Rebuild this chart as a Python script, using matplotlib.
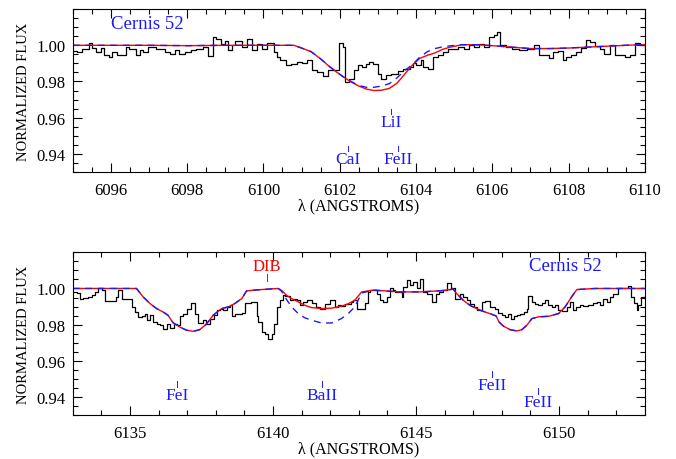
import numpy as np
import matplotlib
matplotlib.use("Agg")
import matplotlib.pyplot as plt
from matplotlib.ticker import MultipleLocator, FixedLocator, FormatStrFormatter

# Cernis 52 spectrum around 6102 A (top) and 6143 A (bottom)

# top panel: observed spectrum (step edges / flux)
top_wave = [6095.00, 6095.12, 6095.25, 6095.43, 6095.51, 6095.60, 6095.73, 6095.82,
            6095.94, 6096.04, 6096.17, 6096.26, 6096.39, 6096.48, 6096.66, 6096.76,
            6096.85, 6096.97, 6097.19, 6097.41, 6097.54, 6097.67, 6097.80, 6097.94,
            6098.11, 6098.24, 6098.42, 6098.55, 6098.67, 6098.77, 6098.90, 6098.99,
            6099.08, 6099.17, 6099.26, 6099.43, 6099.56, 6099.70, 6099.83, 6099.96,
            6100.09, 6100.27, 6100.36, 6100.44, 6100.58, 6100.71, 6100.89, 6101.02,
            6101.15, 6101.28, 6101.41, 6101.55, 6101.68, 6101.81, 6101.99, 6102.09,
            6102.15, 6102.25, 6102.38, 6102.47, 6102.58, 6102.69, 6102.78, 6102.87,
            6103.00, 6103.09, 6103.22, 6103.35, 6103.53, 6103.66, 6103.84, 6103.92,
            6104.01, 6104.13, 6104.19, 6104.32, 6104.45, 6104.58, 6104.72, 6104.85,
            6105.11, 6105.25, 6105.38, 6105.51, 6105.64, 6105.77, 6105.91, 6106.04,
            6106.13, 6106.21, 6106.35, 6106.52, 6106.70, 6106.92, 6107.09, 6107.23,
            6107.36, 6107.49, 6107.58, 6107.71, 6107.84, 6107.93, 6108.06, 6108.19,
            6108.33, 6108.46, 6108.55, 6108.68, 6108.81, 6108.94, 6109.08, 6109.21,
            6109.34, 6109.47, 6109.60, 6109.73, 6109.87, 6110.00]
top_flux = [0.9967, 0.9963, 0.9981, 1.0013, 0.9985, 0.9963, 0.9985, 0.9944,
            0.9935, 0.9963, 0.9944, 0.9948, 0.9991, 0.9981, 0.9944, 0.9972,
            0.9963, 0.9991, 0.9981, 0.9963, 0.9954, 0.9972, 0.9954, 0.9963,
            0.9972, 0.9981, 0.9991, 0.9941, 1.0046, 1.0037, 1.0009, 1.0022,
            0.9972, 1.0000, 1.0022, 0.9991, 1.0033, 0.9972, 1.0009, 0.9981,
            1.0015, 0.9963, 0.9935, 0.9917, 0.9889, 0.9898, 0.9907, 0.9902,
            0.9917, 0.9861, 0.9852, 0.9833, 0.9861, 0.9861, 1.0015, 0.9991,
            0.9796, 0.9815, 0.9861, 0.9889, 0.9880, 0.9898, 0.9907, 0.9898,
            0.9843, 0.9815, 0.9837, 0.9843, 0.9856, 0.9867, 0.9880, 0.9904,
            0.9889, 0.9917, 0.9880, 0.9870, 0.9935, 0.9944, 0.9963, 0.9981,
            0.9991, 0.9981, 1.0000, 0.9991, 1.0009, 0.9991, 1.0046, 1.0059,
            1.0074, 1.0000, 0.9991, 0.9981, 0.9972, 0.9981, 1.0000, 0.9944,
            0.9948, 0.9930, 0.9963, 0.9967, 0.9917, 0.9935, 0.9944, 0.9963,
            0.9985, 1.0028, 1.0019, 0.9994, 0.9981, 0.9954, 1.0000, 0.9948,
            0.9944, 0.9935, 0.9944, 1.0013, 1.0000, 0.9954]

# top panel: synthetic fits
top_model_wave = [6095.0, 6096.0, 6097.0, 6098.0, 6099.0, 6100.0, 6100.8, 6101.0,
                  6101.25, 6101.5, 6101.7, 6101.9, 6102.1, 6102.3, 6102.5, 6102.7,
                  6102.9, 6103.1, 6103.3, 6103.5, 6103.7, 6103.9, 6104.1, 6104.3,
                  6104.5, 6104.7, 6104.9, 6105.2, 6105.6, 6106.0, 6106.5, 6107.0,
                  6107.5, 6108.0, 6108.5, 6109.0, 6109.5, 6110.0]
top_red = [1.0000, 1.0000, 1.0000, 0.9998, 1.0000, 1.0000, 1.0000, 0.9985,
           0.9965, 0.9925, 0.9888, 0.9855, 0.9825, 0.9797, 0.9775, 0.9758,
           0.9750, 0.9752, 0.9762, 0.9790, 0.9840, 0.9890, 0.9928, 0.9945,
           0.9958, 0.9978, 0.9990, 1.0003, 1.0003, 0.9998, 0.9990, 0.9982,
           0.9982, 0.9985, 0.9990, 0.9995, 1.0000, 1.0004]
top_blue = [1.0000, 1.0000, 1.0000, 0.9998, 1.0000, 1.0000, 1.0000, 0.9985,
            0.9965, 0.9925, 0.9888, 0.9855, 0.9825, 0.9800, 0.9778, 0.9768,
            0.9768, 0.9775, 0.9788, 0.9820, 0.9860, 0.9892, 0.9935, 0.9965,
            0.9982, 0.9992, 0.9997, 1.0003, 1.0003, 0.9998, 0.9990, 0.9982,
            0.9982, 0.9985, 0.9990, 0.9995, 1.0000, 1.0004]

# bottom panel: observed spectrum
bot_wave = [6133.00, 6133.14, 6133.25, 6133.37, 6133.55, 6133.66, 6133.78, 6133.89,
            6134.01, 6134.13, 6134.53, 6134.59, 6134.71, 6134.82, 6135.06, 6135.17,
            6135.29, 6135.41, 6135.52, 6135.60, 6135.70, 6135.81, 6135.93, 6136.05,
            6136.16, 6136.28, 6136.39, 6136.53, 6136.63, 6136.74, 6136.86, 6136.98,
            6137.12, 6137.27, 6137.38, 6137.56, 6137.67, 6137.81, 6137.93, 6138.03,
            6138.15, 6138.27, 6138.38, 6138.50, 6138.56, 6138.67, 6138.91, 6139.02,
            6139.25, 6139.43, 6139.49, 6139.60, 6139.72, 6139.84, 6139.96, 6140.05,
            6140.13, 6140.25, 6140.36, 6140.42, 6140.59, 6140.71, 6140.83, 6140.94,
            6141.06, 6141.18, 6141.35, 6141.52, 6141.64, 6141.81, 6141.99, 6142.16,
            6142.26, 6142.39, 6142.51, 6142.74, 6142.81, 6142.95, 6143.22, 6143.33,
            6143.39, 6143.51, 6143.63, 6143.74, 6143.86, 6143.98, 6144.09, 6144.19,
            6144.27, 6144.50, 6144.56, 6144.67, 6144.79, 6144.91, 6145.02, 6145.14,
            6145.26, 6145.37, 6145.55, 6145.70, 6145.81, 6145.95, 6146.07, 6146.24,
            6146.36, 6146.53, 6146.65, 6146.77, 6146.88, 6147.02, 6147.14, 6147.29,
            6147.41, 6147.58, 6147.77, 6147.88, 6148.00, 6148.12, 6148.23, 6148.32,
            6148.41, 6148.52, 6148.64, 6148.76, 6148.87, 6148.93, 6149.05, 6149.16,
            6149.28, 6149.40, 6149.51, 6149.63, 6149.74, 6149.86, 6149.98, 6150.09,
            6150.27, 6150.38, 6150.50, 6150.58, 6150.73, 6150.85, 6151.02, 6151.20,
            6151.31, 6151.43, 6151.55, 6151.66, 6151.78, 6151.90, 6152.07, 6152.40,
            6152.53, 6152.63, 6152.71, 6152.77, 6152.88, 6153.00]
bot_flux = [0.9981, 0.9976, 0.9944, 0.9950, 0.9954, 0.9963, 0.9981, 1.0000,
            0.9991, 0.9931, 0.9954, 0.9991, 0.9944, 0.9939, 0.9898, 0.9870,
            0.9843, 0.9846, 0.9861, 0.9824, 0.9852, 0.9815, 0.9802, 0.9796,
            0.9778, 0.9802, 0.9783, 0.9806, 0.9796, 0.9846, 0.9861, 0.9889,
            0.9917, 0.9861, 0.9809, 0.9824, 0.9806, 0.9833, 0.9852, 0.9880,
            0.9889, 0.9883, 0.9898, 0.9907, 0.9846, 0.9861, 0.9865, 0.9917,
            0.9926, 0.9846, 0.9815, 0.9759, 0.9746, 0.9722, 0.9746, 0.9806,
            0.9898, 0.9935, 0.9963, 0.9957, 0.9935, 0.9944, 0.9935, 0.9907,
            0.9926, 0.9935, 0.9920, 0.9898, 0.9889, 0.9913, 0.9935, 0.9898,
            0.9907, 0.9902, 0.9913, 0.9926, 0.9935, 0.9889, 0.9917, 0.9981,
            0.9991, 0.9994, 0.9972, 0.9935, 0.9926, 0.9954, 1.0000, 0.9994,
            0.9981, 0.9954, 1.0006, 1.0046, 1.0019, 1.0037, 1.0000, 1.0050,
            0.9981, 0.9969, 0.9926, 0.9972, 0.9981, 0.9994, 1.0028, 1.0000,
            0.9944, 0.9972, 0.9954, 0.9935, 0.9913, 0.9898, 0.9883, 0.9926,
            0.9930, 0.9898, 0.9889, 0.9865, 0.9852, 0.9843, 0.9857, 0.9833,
            0.9846, 0.9852, 0.9861, 0.9870, 0.9889, 0.9957, 0.9926, 0.9913,
            0.9907, 0.9920, 0.9935, 0.9907, 0.9898, 0.9907, 0.9883, 0.9876,
            0.9898, 0.9926, 0.9883, 0.9898, 0.9907, 0.9902, 0.9907, 0.9917,
            0.9926, 0.9907, 0.9944, 0.9926, 0.9954, 0.9972, 1.0000, 1.0013,
            0.9954, 0.9917, 0.9883, 0.9907, 0.9954, 0.9954]

# bottom panel: synthetic fits (red with DIB, blue dashed without)
bot_model_wave = [6133.0, 6134.0, 6135.0, 6135.23, 6135.46, 6135.70, 6135.93, 6136.16,
                  6136.33, 6136.51, 6136.74, 6136.98, 6137.21, 6137.44, 6137.67, 6137.91,
                  6138.21, 6138.44, 6138.67, 6138.91, 6139.08, 6139.60, 6140.18, 6140.30,
                  6140.47, 6140.65, 6140.88, 6141.11, 6141.35, 6141.70, 6142.05, 6142.39,
                  6142.63, 6142.86, 6143.10, 6143.51, 6144.44, 6145.14, 6145.84, 6146.30,
                  6146.42, 6146.65, 6146.88, 6147.23, 6147.58, 6147.80, 6147.90, 6148.06,
                  6148.29, 6148.52, 6148.70, 6148.87, 6149.05, 6149.28, 6149.63, 6149.98,
                  6150.21, 6150.44, 6150.62, 6151.26, 6152.0, 6153.0]
bot_red = [1.0000, 1.0000, 1.0000, 1.0000, 0.9954, 0.9917, 0.9889, 0.9870,
           0.9852, 0.9810, 0.9787, 0.9769, 0.9763, 0.9772, 0.9802, 0.9852,
           0.9889, 0.9898, 0.9917, 0.9944, 0.9987, 0.9994, 1.0000, 0.9990,
           0.9963, 0.9944, 0.9926, 0.9907, 0.9894, 0.9889, 0.9891, 0.9902,
           0.9915, 0.9935, 0.9981, 0.9991, 0.9981, 0.9981, 0.9987, 0.9996,
           0.9972, 0.9935, 0.9907, 0.9880, 0.9861, 0.9848, 0.9815, 0.9791,
           0.9772, 0.9765, 0.9772, 0.9796, 0.9833, 0.9843, 0.9846, 0.9861,
           0.9898, 0.9954, 0.9994, 1.0000, 1.0000, 1.0000]
bot_blue = [1.0000, 1.0000, 1.0000, 1.0000, 0.9954, 0.9917, 0.9889, 0.9870,
            0.9852, 0.9810, 0.9787, 0.9769, 0.9763, 0.9772, 0.9802, 0.9852,
            0.9889, 0.9898, 0.9917, 0.9944, 0.9987, 0.9994, 1.0000, 0.9985,
            0.9940, 0.9898, 0.9862, 0.9838, 0.9824, 0.9809, 0.9809, 0.9833,
            0.9861, 0.9898, 0.9975, 0.9991, 0.9981, 0.9981, 0.9987, 0.9996,
            0.9972, 0.9935, 0.9907, 0.9880, 0.9861, 0.9848, 0.9815, 0.9791,
            0.9772, 0.9765, 0.9772, 0.9796, 0.9833, 0.9843, 0.9846, 0.9861,
            0.9898, 0.9954, 0.9994, 1.0000, 1.0000, 1.0000]

# line identifications: label, wavelength, flux of text baseline
top_lines = [("CaI", 6102.22, 0.9347), ("LiI", 6103.35, 0.9552), ("FeII", 6103.54, 0.9347)]
bot_lines = [("FeI", 6136.65, 0.9389), ("BaII", 6141.72, 0.9389),
             ("FeII", 6147.67, 0.9444), ("FeII", 6149.27, 0.9350)]
flux_ticks = [0.94, 0.96, 0.98, 1.00]

BLUE = "#1a1aff"
RED = "#ff0000"


def style_axes(ax, xmin, xmax, major, minor):
    ax.set_xlim(xmin, xmax)
    ax.set_ylim(0.93, 1.02)
    ax.xaxis.set_major_locator(MultipleLocator(major))
    ax.xaxis.set_minor_locator(MultipleLocator(minor))
    ax.yaxis.set_major_locator(FixedLocator(flux_ticks))
    ax.yaxis.set_minor_locator(MultipleLocator(0.005))
    ax.yaxis.set_major_formatter(FormatStrFormatter("%.2f"))
    ax.xaxis.set_major_formatter(FormatStrFormatter("%d"))
    ax.tick_params(which="both", direction="in", top=True, right=True, labelsize=12)
    ax.tick_params(which="major", length=6.5, width=0.8)
    ax.tick_params(which="minor", length=3.5, width=0.8)
    ax.tick_params(axis="x", which="major", pad=7)
    ax.tick_params(axis="y", which="major", pad=5)
    for s in ax.spines.values():
        s.set_linewidth(0.8)
    ax.set_xlabel("λ (ANGSTROMS)", fontsize=11.5, labelpad=0)
    ax.set_ylabel("NORMALIZED FLUX", fontsize=10.5, labelpad=5)


def mark_lines(ax, lines, color):
    for name, wl, base in lines:
        ax.text(wl, base, name, color=color, fontsize=12.5, ha="center", va="baseline")
        ax.plot([wl, wl], [base + 0.0068, base + 0.0098], color=color, lw=0.7)


def main():
    plt.rcParams["font.family"] = ["Liberation Serif", "DejaVu Serif"]

    fig = plt.figure(figsize=(6.76, 4.6), dpi=100)
    ax1 = fig.add_axes([0.1075, 0.624, 0.8465, 0.354])
    ax2 = fig.add_axes([0.1075, 0.0957, 0.8465, 0.3536])

    # top
    ax1.step(top_wave, top_flux, where="post", color="k", lw=0.9)
    ax1.plot(top_model_wave, top_red, color=RED, lw=1.0)
    ax1.plot(top_model_wave, top_blue, color=BLUE, lw=1.0, dashes=(5, 4))
    style_axes(ax1, 6095, 6110, 2, 0.5)
    ax1.text(6096.0, 1.0097, "Cernis 52", color=BLUE, fontsize=13.5)
    mark_lines(ax1, top_lines, BLUE)

    # bottom
    ax2.step(bot_wave, bot_flux, where="post", color="k", lw=0.9)
    ax2.plot(bot_model_wave, bot_red, color=RED, lw=1.0)
    ax2.plot(bot_model_wave, bot_blue, color=BLUE, lw=1.0, dashes=(5, 4))
    style_axes(ax2, 6133, 6153, 5, 1)
    ax2.text(6148.95, 1.0100, "Cernis 52", color=BLUE, fontsize=13.5)
    ax2.text(6139.78, 1.0102, "DIB", color=RED, fontsize=12, ha="center", va="baseline")
    ax2.plot([6139.78, 6139.78], [1.0040, 1.0078], color=RED, lw=0.7)
    mark_lines(ax2, bot_lines, BLUE)

    fig.savefig("out.png", dpi=100)


if __name__ == "__main__":
    main()
